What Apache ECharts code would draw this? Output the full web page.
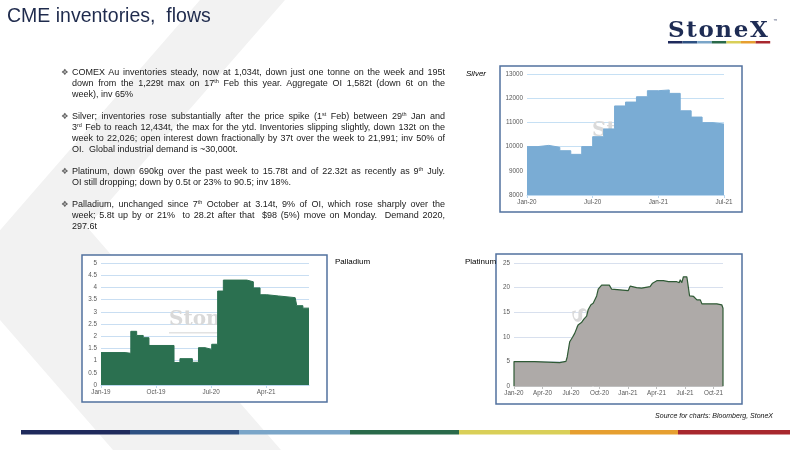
<!DOCTYPE html>
<html><head><meta charset="utf-8">
<script src="https://cdn.jsdelivr.net/npm/echarts@6/dist/echarts.min.js"></script>
<style>
html,body{margin:0;padding:0;background:#fff;}
#wrap{position:relative;width:800px;height:450px;overflow:hidden;font-family:'Liberation Sans',Arial,sans-serif;}
#chart{position:absolute;left:0;top:0;width:800px;height:450px;}
#title{position:absolute;left:7px;top:5px;font-size:19.5px;line-height:20px;color:#1f2b4d;white-space:nowrap;}
#logo{position:absolute;left:668px;top:18px;font-family:'DejaVu Serif',serif;font-weight:bold;font-size:23px;line-height:22px;color:#1e2c54;letter-spacing:1.6px;white-space:nowrap;}
.para{position:absolute;left:72px;width:373px;font-size:9px;line-height:11px;color:#1a1a1a;}
.para .l{text-align:justify;text-align-last:justify;height:11px;}
.para .l.last{text-align:left;text-align-last:left;}
.para .b{position:absolute;left:-11px;top:0;font-family:'DejaVu Sans',sans-serif;font-size:8.5px;line-height:11px;color:#666;}
sup{font-size:5.5px;line-height:0;vertical-align:3px;}
#src{position:absolute;right:27px;top:412px;font-size:7px;font-style:italic;color:#111;white-space:nowrap;}
</style></head>
<body>
<div id="wrap">
<div id="chart"></div>
<div id="title">CME inventories,&nbsp; flows</div>
<div id="logo">StoneX</div>
<div class="para" style="top:66.5px"><span class="b">❖</span>
<div class="l">COMEX Au inventories steady, now at 1,034t, down just one tonne on the week and 195t</div>
<div class="l">down from the 1,229t max on 17<sup>th</sup> Feb this year. Aggregate OI 1,582t (down 6t on the</div>
<div class="l last">week), inv 65%</div>
</div>
<div class="para" style="top:110.5px"><span class="b">❖</span>
<div class="l">Silver; inventories rose substantially after the price spike (1<sup>st</sup> Feb) between 29<sup>th</sup> Jan and</div>
<div class="l">3<sup>rd</sup> Feb to reach 12,434t, the max for the ytd. Inventories slipping slightly, down 132t on the</div>
<div class="l">week to 22,026; open interest down fractionally by 37t over the week to 21,991; inv 50% of</div>
<div class="l last">OI.&nbsp; Global industrial demand is ~30,000t.</div>
</div>
<div class="para" style="top:165.5px"><span class="b">❖</span>
<div class="l">Platinum, down 690kg over the past week to 15.78t and of 22.32t as recently as 9<sup>th</sup> July.</div>
<div class="l last">OI still dropping; down by 0.5t or 23% to 90.5; inv 18%.</div>
</div>
<div class="para" style="top:198.5px"><span class="b">❖</span>
<div class="l">Palladium, unchanged since 7<sup>th</sup> October at 3.14t, 9% of OI, which rose sharply over the</div>
<div class="l">week; 5.8t up by or 21%&nbsp; to 28.2t after that&nbsp; $98 (5%) move on Monday.&nbsp; Demand 2020,</div>
<div class="l last">297.6t</div>
</div>
<div id="src">Source for charts: Bloomberg, StoneX</div>
</div>
<script>
// ---------- data ----------
const MONTHS = ['Jan','Feb','Mar','Apr','May','Jun','Jul','Aug','Sep','Oct','Nov','Dec'];

// Silver inventories (monthly, t)
const silverDates  = ['2020-01-01','2020-02-01','2020-03-01','2020-04-01','2020-05-01','2020-06-01','2020-07-01','2020-08-01','2020-09-01','2020-10-01','2020-11-01','2020-12-01','2021-01-01','2021-02-01','2021-03-01','2021-04-01','2021-05-01','2021-06-01','2021-07-01'];
const silverValues = [10000,10050,9970,9830,9680,10000,10410,10730,11680,11840,12060,12310,12340,12200,11480,11220,10990,10930,10930];
const silverTicks  = ['Jan-20','Jul-20','Jan-21','Jul-21'];

// Palladium inventories (t)
const palladiumDates  = ['2019-01-01','2019-04-29','2019-05-28','2019-06-26','2019-07-29','2019-08-27','2019-12-30','2020-01-29','2020-03-30','2020-04-29','2020-06-01','2020-07-04','2020-08-03','2020-09-01','2020-12-27','2021-01-29','2021-03-01','2021-04-04','2021-06-01','2021-08-24','2021-09-01','2021-10-01','2021-11-01'];
const palladiumValues = [1.33,1.30,2.20,2.03,1.94,1.62,0.92,1.08,0.93,1.53,1.46,1.67,3.85,4.30,4.23,3.98,3.70,3.65,3.58,3.54,3.25,3.15,3.15];
const palladiumTicks  = ['Jan-19','Oct-19','Jul-20','Apr-21'];

// Platinum inventories (t)
const platinumDates  = ['2020-01-01','2020-03-06','2020-03-12','2020-05-26','2020-06-15','2020-06-19','2020-06-27','2020-07-06','2020-07-13','2020-07-24','2020-08-04','2020-08-12','2020-08-21','2020-08-26','2020-09-04','2020-09-11','2020-09-22','2020-09-27','2020-10-08','2020-11-02','2020-11-09','2020-11-15','2021-01-02','2021-01-08','2021-01-29','2021-02-13','2021-03-11','2021-03-19','2021-04-02','2021-04-23','2021-05-09','2021-06-05','2021-06-13','2021-06-16','2021-06-21','2021-06-26','2021-07-07','2021-07-10','2021-07-16','2021-07-29','2021-08-09','2021-08-20','2021-08-25','2021-09-21','2021-09-26','2021-10-12','2021-10-28','2021-11-01'];
const platinumValues = [4.97,4.97,4.8,4.75,5.0,5.9,9.0,9.9,10.7,12.4,12.9,13.6,14.2,15.5,16.5,16.8,18.3,19.7,20.5,20.5,19.7,19.4,19.4,20.3,20.0,19.9,20.2,20.9,21.4,21.4,21.2,21.2,21.0,21.6,21.0,22.2,22.2,20.9,18.3,18.2,17.5,17.5,16.7,16.7,17.0,16.7,16.5,15.8];
const platinumTicks  = ['Jan-20','Apr-20','Jul-20','Oct-20','Jan-21','Apr-21','Jul-21','Oct-21'];

// ---------- helpers ----------
function monthIndex(d, base){
  const p = d.split('-').map(Number);
  const dim = new Date(p[0], p[1], 0).getDate();
  return (p[0]-base)*12 + (p[1]-1) + (p[2]-1)/dim;
}
function tickIndex(lbl, base){
  const p = lbl.split('-');
  return (2000+Number(p[1])-base)*12 + MONTHS.indexOf(p[0]);
}
function labelFor(ticks, base){
  const m = {}; ticks.forEach(t => { m[tickIndex(t, base)] = t; });
  return v => (m[Math.round(v)] || '');
}

const LBL = {fontSize:6.3, color:'#595959', fontFamily:'Liberation Sans, Arial, sans-serif'};
function xAx(grid, base, ticks, maxDate, lineColor){
  const cv = ticks.map(t => tickIndex(t, base));
  return {
    type:'value', gridIndex:grid, min:0, max:monthIndex(maxDate, base),
    axisLine:{show:true, lineStyle:{color:lineColor, width:1}},
    axisTick:{show:true, length:3, customValues:cv, lineStyle:{color:lineColor}},
    splitLine:{show:false},
    axisLabel:Object.assign({margin:4, customValues:cv, formatter:labelFor(ticks, base)}, LBL)
  };
}
function yAx(grid, min, max, interval, gridColor){
  return {
    type:'value', gridIndex:grid, min:min, max:max, interval:interval,
    axisLine:{show:false}, axisTick:{show:false},
    splitLine:{show:true, lineStyle:{color:gridColor, width:1}},
    axisLabel:Object.assign({margin:4, formatter:v => String(v)}, LBL)
  };
}

const silverData = silverDates.map((d,i) => [monthIndex(d,2020), silverValues[i]]);
const palladiumData = palladiumDates.map((d,i) => [monthIndex(d,2019), palladiumValues[i]]);
const platPts = platinumDates.map((d,i) => [monthIndex(d,2020), platinumValues[i]]);
const platinumData = [[platPts[0][0],0]].concat(platPts, [[platPts[platPts.length-1][0],0]]);

const stripeColors = ['#1f2a5c','#2e5182','#7aa5c8','#2a6a4a','#d9cf58','#e69f30','#a8282e'];
const stripeX = [21,130,239,350,459,570,678,790];

const graphics = [
  {type:'polygon', z:-20, shape:{points:[[200,0],[285,0],[87,227],[281,450],[113,450],[-39,275]]}, style:{fill:'#f2f2f2'}},
  {type:'rect', z:-10, shape:{x:500,y:66,width:242,height:146}, style:{fill:'#fff', stroke:'#52719f', lineWidth:1.5}},
  {type:'rect', z:-10, shape:{x:82,y:255,width:245,height:147}, style:{fill:'#fff', stroke:'#52719f', lineWidth:1.5}},
  {type:'rect', z:-10, shape:{x:496,y:254,width:246,height:150}, style:{fill:'#fff', stroke:'#52719f', lineWidth:1.5}},
  // watermarks
  {type:'text', z:1, x:592, y:121, style:{text:'StoneX', font:'bold 20px "DejaVu Serif"', fill:'#dadada'}},
  {type:'text', z:1, x:169, y:310, style:{text:'StoneX', font:'bold 20px "DejaVu Serif"', fill:'#d9d9d9'}},
  {type:'rect', z:1, shape:{x:169,y:332,width:70,height:1.5}, style:{fill:'#e2e2e2'}},
  {type:'text', z:1, x:586, y:306, rotation:-1.3, style:{text:'StoneX', font:'bold 20px "DejaVu Serif"', fill:'#dadada'}},
  // chart labels
  {type:'text', left:466, top:70, style:{text:'Silver', font:'italic 8px "Liberation Sans"', fill:'#000'}},
  {type:'text', left:335, top:258, style:{text:'Palladium', font:'8px "Liberation Sans"', fill:'#000'}},
  {type:'text', left:465, top:258, style:{text:'Platinum', font:'8px "Liberation Sans"', fill:'#000'}},
  {type:'text', left:773, top:19, style:{text:'™', font:'5px "DejaVu Sans"', fill:'#1e2c54'}}
];
for (let i=0;i<7;i++){
  graphics.push({type:'rect', shape:{x:stripeX[i], y:430, width:stripeX[i+1]-stripeX[i], height:4.5}, style:{fill:stripeColors[i]}});
  graphics.push({type:'rect', shape:{x:668+i*14.6, y:41, width:14.6, height:2.5}, style:{fill:stripeColors[i]}});
}

const chart = echarts.init(document.getElementById('chart'), null, {renderer:'canvas'});
chart.setOption({
  animation:false,
  backgroundColor:'transparent',
  grid:[
    {left:527, top:74, width:197, height:121},
    {left:101, top:263, width:208, height:122},
    {left:514, top:263, width:209, height:123}
  ],
  xAxis:[
    xAx(0, 2020, silverTicks, silverDates[silverDates.length-1], '#bcd8ef'),
    xAx(1, 2019, palladiumTicks, palladiumDates[palladiumDates.length-1], '#bcd8ef'),
    xAx(2, 2020, platinumTicks, platinumDates[platinumDates.length-1], '#bfbfbf')
  ],
  yAxis:[
    yAx(0, 8000, 13000, 1000, '#c6e0f4'),
    yAx(1, 0, 5, 0.5, '#c9def2'),
    yAx(2, 0, 25, 5, '#d8e0ee')
  ],
  graphic:{elements:graphics},
  series:[
    {name:'Silver', type:'line', xAxisIndex:0, yAxisIndex:0, step:'end', symbol:'none',
     lineStyle:{color:'#7aacd4', width:1}, areaStyle:{color:'#7aacd4', opacity:1}, data:silverData},
    {name:'Palladium', type:'line', xAxisIndex:1, yAxisIndex:1, step:'end', symbol:'none',
     lineStyle:{color:'#2b7050', width:1}, areaStyle:{color:'#2b7050', opacity:1}, data:palladiumData},
    {name:'Platinum', type:'line', xAxisIndex:2, yAxisIndex:2, symbol:'none',
     lineStyle:{color:'#2f5a35', width:1.2}, areaStyle:{color:'#aeaaa8', opacity:1}, data:platinumData}
  ]
});
</script>
</body></html>
